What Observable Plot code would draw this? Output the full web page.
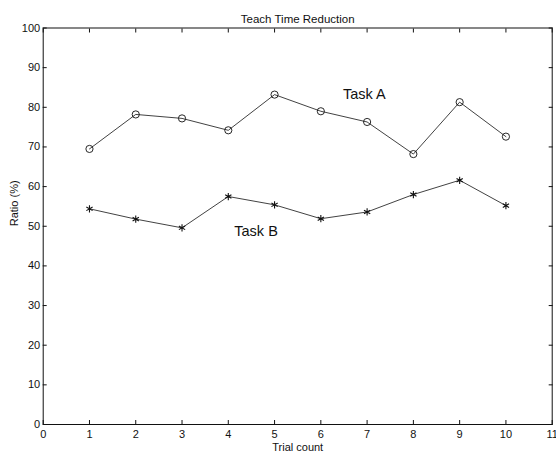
<!DOCTYPE html>
<html>
<head>
<meta charset="utf-8">
<script src="https://cdn.jsdelivr.net/npm/d3@7"></script>
<script src="https://cdn.jsdelivr.net/npm/@observablehq/plot@0.6"></script>
<style>
  html, body { margin: 0; padding: 0; background: #fff; }
  svg { display: block; }
</style>
</head>
<body>
<div id="chart"></div>
<script>
const trials = [1, 2, 3, 4, 5, 6, 7, 8, 9, 10];
const taskA = [69.5, 78.2, 77.2, 74.2, 83.2, 79.0, 76.3, 68.2, 81.3, 72.6];
const taskB = [54.4, 51.8, 49.6, 57.5, 55.4, 51.9, 53.6, 58.0, 61.6, 55.2];
const xTicks = [0, 1, 2, 3, 4, 5, 6, 7, 8, 9, 10, 11];
const yTicks = [0, 10, 20, 30, 40, 50, 60, 70, 80, 90, 100];
const seriesLabels = [
  {text: "Task A", x: 6.94, y: 83.2},
  {text: "Task B", x: 4.6, y: 48.8}
];
const title = "Teach Time Reduction";
const xLabel = "Trial count";
const yLabel = "Ratio (%)";

const rowsA = trials.map((t, i) => ({trial: t, value: taskA[i]}));
const rowsB = trials.map((t, i) => ({trial: t, value: taskB[i]}));

const ink = "#111";
const tick = {tickSize: -4, stroke: ink, strokeWidth: 1};

const chart = Plot.plot({
  width: 556,
  height: 457,
  marginLeft: 42.7,
  marginRight: 4.3,
  marginTop: 27.5,
  marginBottom: 33,
  style: {fontFamily: "'Liberation Sans', Arial, sans-serif", background: "#fff", color: ink},
  x: {domain: [0, 11]},
  y: {domain: [0, 100]},
  marks: [
    Plot.frame({stroke: ink, strokeWidth: 1}),
    Plot.axisX({ticks: xTicks, anchor: "bottom", ...tick, tickPadding: 10, fontSize: 11, label: null}),
    Plot.axisX({ticks: xTicks, anchor: "top", ...tick, tickFormat: () => "", label: null}),
    Plot.axisY({ticks: yTicks, anchor: "left", ...tick, tickPadding: 7, fontSize: 11, label: null}),
    Plot.axisY({ticks: yTicks, anchor: "right", ...tick, tickFormat: () => "", label: null}),
    Plot.line(rowsA, {x: "trial", y: "value", stroke: ink, strokeWidth: 0.8}),
    Plot.dot(rowsA, {x: "trial", y: "value", r: 3.6, stroke: ink, strokeWidth: 0.9, fill: "none"}),
    Plot.line(rowsB, {x: "trial", y: "value", stroke: ink, strokeWidth: 0.8}),
    Plot.dot(rowsB, {x: "trial", y: "value", symbol: "asterisk", r: 3.4, stroke: ink, strokeWidth: 1.1, fill: "none"}),
    Plot.text(seriesLabels, {x: "x", y: "y", text: "text", fontSize: 14.5, fill: ink}),
    Plot.text([title], {frameAnchor: "top", dy: -13, fontSize: 11.5, fill: ink}),
    Plot.text([xLabel], {frameAnchor: "bottom", dy: 26, fontSize: 11, fill: ink}),
    Plot.text([yLabel], {frameAnchor: "left", dx: -29, rotate: -90, fontSize: 11, fill: ink})
  ]
});
document.getElementById("chart").append(chart);
</script>
</body>
</html>
